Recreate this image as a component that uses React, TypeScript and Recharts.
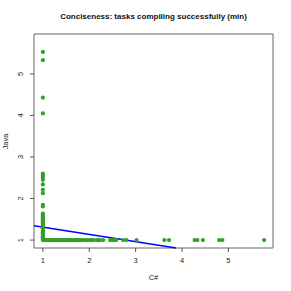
import {
  ScatterChart,
  Scatter,
  XAxis,
  YAxis,
  ReferenceArea,
  ReferenceLine,
} from "recharts";

// Java times for tasks where C# = 1
const javaWhenCsharpOne = [
  5.53, 5.33, 4.43, 4.05, 2.6, 2.55, 2.5, 2.45, 2.34, 2.21, 2.13, 1.85, 1.81,
  1.64, 1.61, 1.58, 1.55, 1.52, 1.49, 1.46, 1.43, 1.4, 1.37, 1.34, 1.31, 1.28,
  1.25, 1.22, 1.19, 1.16, 1.13, 1.1, 1.07, 1.04,
];

// C# times for tasks where Java = 1
const csharpWhenJavaOne = [
  1.0, 1.03, 1.06, 1.09, 1.12, 1.15, 1.18, 1.21, 1.24, 1.27, 1.3, 1.33, 1.36,
  1.39, 1.42, 1.45, 1.48, 1.51, 1.54, 1.57, 1.6, 1.63, 1.66, 1.69, 1.72, 1.75,
  1.78, 1.81, 1.84, 1.9, 1.95, 2.0, 2.05, 2.08, 2.15, 2.2, 2.23, 2.3, 2.45, 2.5,
  2.55, 2.58, 2.73, 2.8, 3.02, 3.62, 3.72, 4.27, 4.33, 4.45, 4.8, 4.87, 5.77,
];

const ticks = [1, 2, 3, 4, 5];
const domain: [number, number] = [0.809, 5.961];

// fitted line: java = intercept + slope * csharp
const intercept = 1.487;
const slope = -0.175;

const points = [
  ...javaWhenCsharpOne.map((y) => ({ x: 1, y })),
  ...csharpWhenJavaOne.map((x) => ({ x, y: 1 })),
];

const lineStart = { x: domain[0], y: intercept + slope * domain[0] };
const lineEnd = { x: (domain[0] - intercept) / slope, y: domain[0] };

const FONT = "'Liberation Sans', Arial, sans-serif";

const Dot = (props: any) => (
  <circle cx={props.cx} cy={props.cy} r={2.1} fill="#33a02c" />
);

const XTick = (props: any) => (
  <text
    x={props.x}
    y={props.y + 9}
    textAnchor="middle"
    fontSize={7.5}
    fontFamily={FONT}
    fill="#222"
  >
    {props.payload.value}
  </text>
);

const YTick = (props: any) => (
  <text
    x={props.x - 5}
    y={props.y}
    textAnchor="middle"
    fontSize={7.5}
    fontFamily={FONT}
    fill="#222"
    transform={`rotate(-90, ${props.x - 5}, ${props.y})`}
  >
    {props.payload.value}
  </text>
);

export default function App() {
  return (
    <div
      style={{
        position: "absolute",
        left: 0,
        top: 0,
        width: 291,
        height: 291,
        background: "#fff",
        fontFamily: FONT,
      }}
    >
      <div
        style={{
          position: "absolute",
          top: 11.5,
          left: 0,
          width: 307,
          textAlign: "center",
          fontSize: 8,
          fontWeight: "bold",
          color: "#111",
        }}
      >
        Conciseness: tasks compiling successfully (min)
      </div>
      <div
        style={{
          position: "absolute",
          top: 273,
          left: 0,
          width: 307,
          textAlign: "center",
          fontSize: 7.5,
          color: "#222",
        }}
      >
        C#
      </div>
      <div
        style={{
          position: "absolute",
          top: 137,
          left: -10,
          width: 30,
          textAlign: "center",
          fontSize: 7.5,
          color: "#222",
          transform: "rotate(-90deg)",
        }}
      >
        Java
      </div>
      <ScatterChart
        width={291}
        height={291}
        margin={{ top: 34, right: 18, left: 0, bottom: 0 }}
      >
        <XAxis
          type="number"
          dataKey="x"
          domain={domain}
          ticks={ticks}
          allowDataOverflow
          axisLine={false}
          tickSize={4}
          tickLine={{ stroke: "#555" }}
          tick={<XTick />}
          height={43}
        />
        <YAxis
          type="number"
          dataKey="y"
          domain={domain}
          ticks={ticks}
          allowDataOverflow
          axisLine={false}
          tickSize={4}
          tickLine={{ stroke: "#555" }}
          tick={<YTick />}
          width={34}
        />
        <ReferenceArea
          x1={domain[0]}
          x2={domain[1]}
          y1={domain[0]}
          y2={domain[1]}
          fill="none"
          stroke="#666"
          strokeWidth={1}
          fillOpacity={0}
        />
        <Scatter data={points} shape={<Dot />} isAnimationActive={false} />
        <ReferenceLine
          segment={[lineStart, lineEnd]}
          stroke="#0000ff"
          strokeWidth={1.6}
        />
      </ScatterChart>
    </div>
  );
}
